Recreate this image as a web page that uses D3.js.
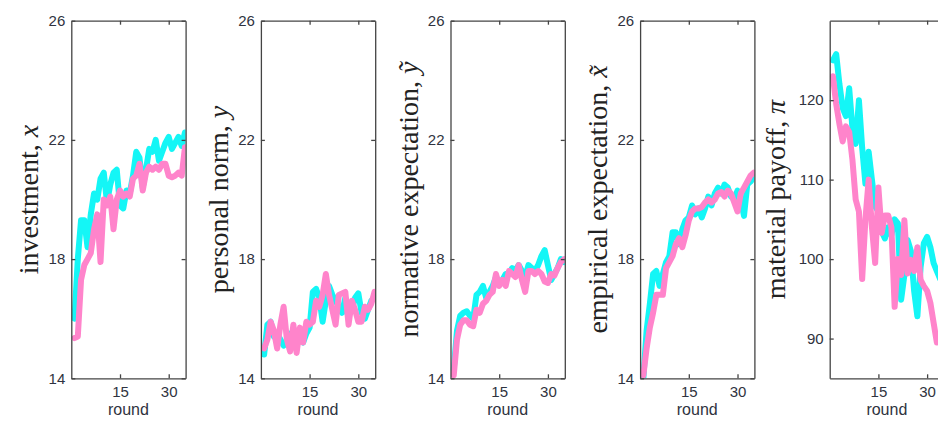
<!DOCTYPE html>
<html>
<head>
<meta charset="utf-8">
<script src="https://cdn.jsdelivr.net/npm/d3@7"></script>
<style>
  body { margin: 0; background: #fff; }
  svg { display: block; }
  .tick-label { font-family: "Liberation Sans", Arial, sans-serif; font-size: 15px; fill: #2f3340; }
  .x-title { font-family: "Liberation Sans", Arial, sans-serif; font-size: 16px; fill: #2f3340; }
  .y-title { font-family: "Liberation Serif", "DejaVu Serif", serif; font-size: 28px; fill: #222; }
</style>
</head>
<body>
<div id="chart"></div>
<script>
// ============================================================
//  Five panels: investment, norm, expectations, payoff by round
// ============================================================

const rounds = d3.range(1, 36);
const roundTicks = [15, 30];

const investCyan = [16.0, 18.0, 19.3, 19.3, 18.4, 19.5, 20.2, 20.0, 20.7, 20.9, 19.9, 20.5, 20.9, 21.0, 19.8,
    19.7, 20.3, 20.2, 20.8, 21.6, 21.4, 20.4, 21.0, 21.7, 21.6, 22.0, 21.3, 21.6, 21.9, 22.1, 21.7, 21.9, 22.1, 21.8, 22.25];
const investPink = [15.35, 15.4, 17.3, 17.8, 18.0, 18.2, 19.0, 19.5, 17.9, 20.0, 19.8, 20.1, 19.0, 20.0, 20.3,
    20.1, 20.2, 20.1, 20.7, 20.8, 21.2, 20.3, 20.9, 21.1, 21.0, 21.1, 21.0, 21.2, 21.2, 20.8, 20.75, 20.8, 20.9, 20.8, 21.75];

const normCyan = [14.8, 15.8, 15.9, 15.4, 15.5, 15.3, 15.1, 15.2, 15.5, 15.3, 15.4, 15.3, 15.2, 15.5, 15.7,
    16.9, 17.0, 16.7, 15.9, 16.6, 17.1, 16.8, 16.6, 16.4, 16.2, 16.7, 16.4, 16.3, 16.7, 16.85, 16.2, 16.0, 16.3, 16.6, 16.7];
const normPink = [15.0, 15.3, 15.9, 15.6, 15.0, 15.8, 16.4, 15.3, 14.9, 15.8, 14.85, 15.7, 15.2, 15.9, 15.8,
    15.9, 16.6, 16.4, 16.8, 17.5, 16.8, 16.3, 15.8, 16.8, 16.85, 16.9, 15.8, 16.6, 16.3, 15.9, 15.9, 16.4, 16.3, 16.5, 16.9];

const normExpCyan = [14.3, 15.6, 16.1, 16.2, 16.25, 16.1, 16.0, 16.8, 16.9, 17.1, 16.7, 16.9, 17.1, 17.4, 17.2,
    17.3, 17.5, 17.5, 17.7, 17.6, 17.8, 17.6, 17.4, 17.8, 17.7, 17.6, 17.8, 18.1, 18.3, 17.8, 17.3, 17.5, 17.7, 18.0, 17.9];
const normExpPink = [14.1, 15.3, 15.8, 15.95, 15.95, 15.8, 15.75, 16.3, 16.2, 16.5, 16.6, 16.8, 16.9, 17.5, 17.1,
    17.3, 17.1, 17.6, 17.5, 17.4, 17.8, 17.3, 16.9, 17.6, 17.6, 17.5, 17.6, 17.5, 17.25, 17.2, 17.5, 17.45, 17.7, 17.9, 18.0];

const empExpCyan = [14.0, 15.6, 16.5, 17.5, 17.6, 17.1, 17.5, 17.9, 18.1, 18.9, 18.9, 18.5, 19.0, 19.3, 19.4,
    19.8, 19.5, 19.7, 19.4, 19.7, 20.1, 19.8, 20.2, 20.4, 20.2, 20.5, 20.4, 20.1, 20.0, 20.3, 20.0, 19.45, 20.5, 20.6, 20.75];
const empExpPink = [14.1, 15.0, 15.7, 16.2, 16.8, 16.8, 16.8, 17.7, 17.9, 18.1, 18.5, 18.7, 18.4, 18.8, 19.3,
    19.6, 19.7, 19.7, 19.75, 19.9, 20.0, 19.9, 20.0, 20.2, 20.25, 20.1, 20.3, 20.2, 19.9, 19.6, 20.2, 20.4, 20.6, 20.8, 20.9];

const payoffCyan = [125.0, 125.8, 122.0, 119.0, 118.0, 121.5, 116.5, 114.5, 120.0, 114.0, 109.5, 113.5, 110.0, 106.6, 106.0,
    103.5, 102.6, 104.0, 103.0, 105.0, 104.5, 94.9, 98.0, 102.4, 101.0, 96.0, 92.8, 99.0, 102.0, 102.8, 101.5, 99.5, 98.5, 97.5, 97.0];
const payoffPink = [123.0, 119.5, 117.0, 114.8, 116.7, 116.0, 112.5, 107.5, 106.0, 97.5, 105.0, 110.0, 104.0, 99.5, 109.0,
    103.3, 105.5, 105.5, 104.0, 94.0, 100.0, 98.0, 104.9, 98.2, 99.9, 98.5, 101.5, 97.4, 96.6, 96.0, 94.5, 92.0, 89.5, 90.0, 91.0];

const expTicks = [14, 18, 22, 26];
const payoffTicks = [90, 100, 110, 120];

// label: plain text part + italic math symbol
const panels = [
    { text: 'investment, ', sym: 'x', domain: [14, 26], ticks: expTicks, cyan: investCyan, pink: investPink },
    { text: 'personal norm, ', sym: 'y', domain: [14, 26], ticks: expTicks, cyan: normCyan, pink: normPink },
    { text: 'normative expectation, ', sym: 'ỹ', domain: [14, 26], ticks: expTicks, cyan: normExpCyan, pink: normExpPink },
    { text: 'empirical expectation, ', sym: 'x̃', domain: [14, 26], ticks: expTicks, cyan: empExpCyan, pink: empExpPink },
    { text: 'material payoff, ', sym: 'π', domain: [85, 130], ticks: payoffTicks, cyan: payoffCyan, pink: payoffPink }
];

const W = 938, H = 429;
const plotTop = 20.7, plotBottom = 378.3;
const firstLeft = 71.3, step = 189.6, pw = 114.3;
const CYAN = '#14f6f6', PINK = '#ff84cb', AXIS = '#444';

const svg = d3.select('#chart').append('svg')
    .attr('width', W)
    .attr('height', H);

panels.forEach((p, i) => {
    const left = firstLeft + i * step;
    const ph = plotBottom - plotTop;
    const x = d3.scaleLinear().domain([0, 35.2]).range([0, pw]);
    const y = d3.scaleLinear().domain(p.domain).range([ph, 0]);

    const g = svg.append('g').attr('transform', `translate(${left},${plotTop})`);

    // --- clip for the thick lines ---
    g.append('clipPath').attr('id', 'clip' + i)
        .append('rect').attr('x', 0).attr('y', 0).attr('width', pw).attr('height', ph);

    const line = d3.line()
        .x((d, k) => x(rounds[k]))
        .y(d => y(d));

    const plot = g.append('g').attr('clip-path', `url(#clip${i})`);
    [[p.cyan, CYAN], [p.pink, PINK]].forEach(([vals, col]) => {
        plot.append('path')
            .datum(vals)
            .attr('d', line)
            .attr('fill', 'none')
            .attr('stroke', col)
            .attr('stroke-width', 6)
            .attr('stroke-linejoin', 'round')
            .attr('stroke-linecap', 'round');
    });

    // --- Axes (matlab-style box, ticks inward) ---
    const bx = g.append('g').attr('transform', `translate(0,${ph})`)
        .call(d3.axisBottom(x).tickValues(roundTicks).tickSize(-4).tickPadding(8).tickSizeOuter(0));
    const tx = g.append('g')
        .call(d3.axisTop(x).tickValues(roundTicks).tickSize(-4).tickFormat('').tickSizeOuter(0));
    const ly = g.append('g')
        .call(d3.axisLeft(y).tickValues(p.ticks).tickSize(-4).tickPadding(6).tickSizeOuter(0));
    const ry = g.append('g').attr('transform', `translate(${pw},0)`)
        .call(d3.axisRight(y).tickValues(p.ticks).tickSize(-4).tickFormat('').tickSizeOuter(0));

    [bx, tx, ly, ry].forEach(a => {
        a.selectAll('path').attr('stroke', AXIS).attr('stroke-width', 1.3);
        a.selectAll('line').attr('stroke', AXIS).attr('stroke-width', 1.3);
        a.selectAll('text').attr('class', 'tick-label').attr('font-size', null).attr('font-family', null).attr('fill', null);
    });

    // --- Axis titles ---
    g.append('text')
        .attr('class', 'x-title')
        .attr('x', pw / 2)
        .attr('y', ph + 37)
        .attr('text-anchor', 'middle')
        .text('round');

    const yt = g.append('text')
        .attr('class', 'y-title')
        .attr('transform', `translate(${i === 4 ? -45 : -33},${ph / 2}) rotate(-90)`)
        .attr('text-anchor', 'middle');
    yt.append('tspan').text(p.text);
    yt.append('tspan').attr('font-style', 'italic').text(p.sym);
});
</script>
</body>
</html>
